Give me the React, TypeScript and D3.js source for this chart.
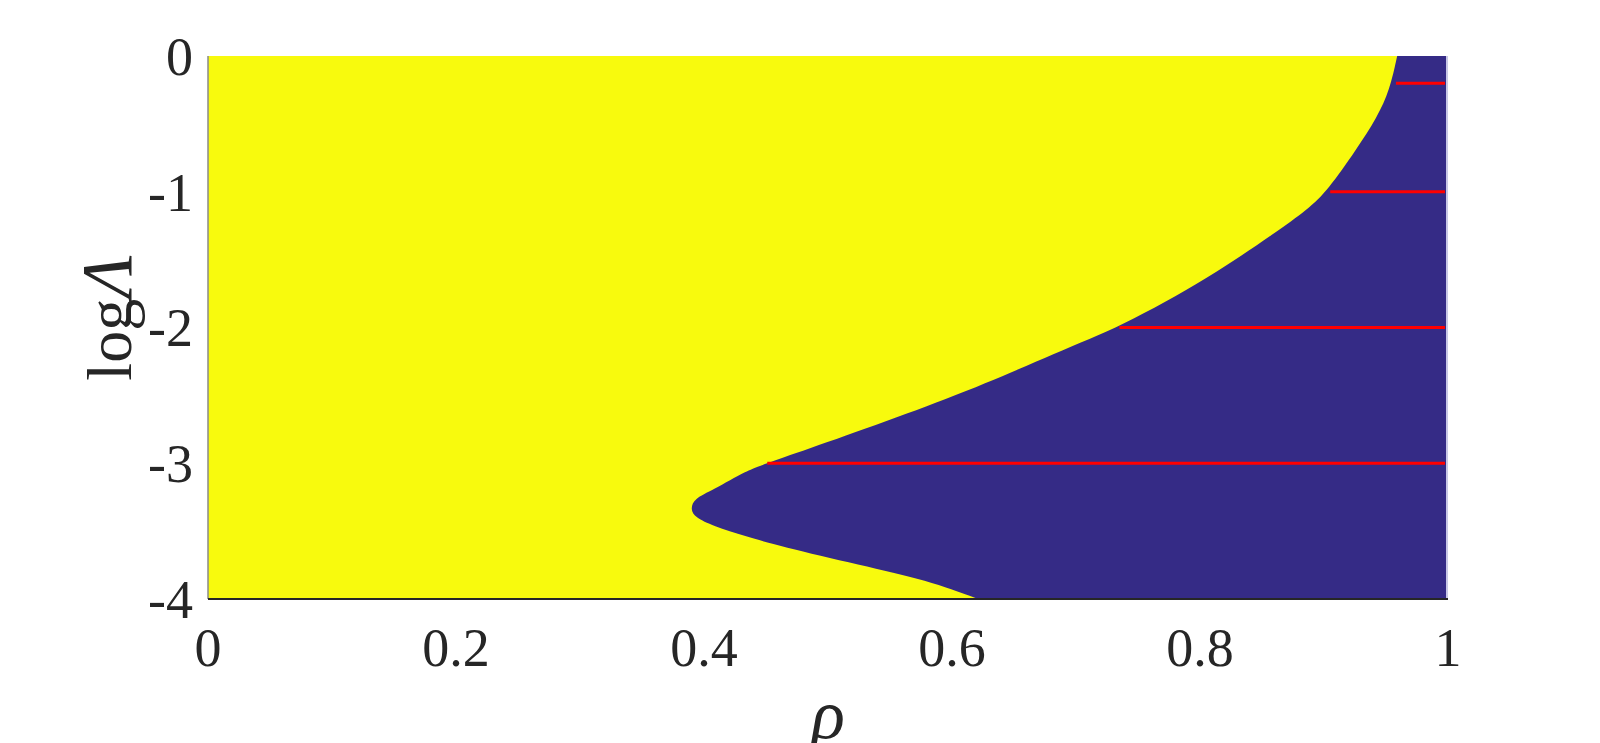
import React, { useEffect, useRef } from 'react';
import * as d3 from 'd3';

// boundary between the two regions (top to bottom)
const boundaryLogLambda = [0, -0.25, -0.45, -0.69, -0.99, -1.13, -1.30, -1.63, -2.0, -2.17, -2.5, -3.0, -3.05, -3.2, -3.26, -3.34, -3.40, -3.46, -3.54, -3.61, -3.75, -3.86, -4.0];
const boundaryRho = [0.959, 0.953, 0.943, 0.926, 0.903, 0.887, 0.861, 0.808, 0.735, 0.687, 0.607, 0.451, 0.435, 0.407, 0.392, 0.389, 0.393, 0.407, 0.434, 0.461, 0.526, 0.58, 0.621];

// red horizontal lines: level and where they start
const lineLevels = [-0.2, -1, -2, -3];
const lineStarts = [0.958, 0.905, 0.735, 0.451];

const xTicks = [0, 0.2, 0.4, 0.6, 0.8, 1];
const yTicks = [0, -1, -2, -3, -4];

const App = () => {
    const svgRef = useRef(null);

    useEffect(() => {
        const svg = d3.select(svgRef.current);
        svg.selectAll("*").remove();

        const left = 208, right = 1448, top = 56, bottom = 599;

        const x = d3.scaleLinear().domain([0, 1]).range([left, right]);
        const y = d3.scaleLinear().domain([0, -4]).range([top, bottom]);

        const yellow = "#f8fa0d";
        const blue = "#352b86";

        // yellow background
        svg.append("rect")
            .attr("x", left).attr("y", top)
            .attr("width", right - left).attr("height", bottom - top)
            .attr("fill", yellow);

        // blue region: boundary then right edge
        const pts = boundaryRho.map((r, i) => [x(r), y(boundaryLogLambda[i])]);
        const curve = d3.line().curve(d3.curveBasis)(pts);
        const path = curve + `L${x(1)},${y(-4)}L${x(1)},${y(0)}Z`;
        svg.append("path")
            .attr("d", path)
            .attr("fill", blue);

        // red lines
        svg.selectAll("line.red")
            .data(lineLevels)
            .enter()
            .append("line")
            .attr("class", "red")
            .attr("x1", (d, i) => x(lineStarts[i]))
            .attr("x2", x(1) - 3)
            .attr("y1", d => y(d))
            .attr("y2", d => y(d))
            .attr("stroke", "#ff0000")
            .attr("stroke-width", 3);

        // right edge
        svg.append("line")
            .attr("x1", right - 1).attr("x2", right - 1)
            .attr("y1", top).attr("y2", bottom)
            .attr("stroke", "#c9c8e6")
            .attr("stroke-width", 2);

        // axis lines
        svg.append("line")
            .attr("x1", left).attr("x2", left)
            .attr("y1", top).attr("y2", bottom)
            .attr("stroke", "#8a8a8a").attr("stroke-width", 1.5);
        svg.append("line")
            .attr("x1", left).attr("x2", right)
            .attr("y1", bottom).attr("y2", bottom)
            .attr("stroke", "#262626").attr("stroke-width", 2);

        const font = "'Liberation Serif', 'Times New Roman', serif";

        // tick labels
        svg.selectAll("text.xt")
            .data(xTicks)
            .enter()
            .append("text")
            .attr("class", "xt")
            .attr("x", d => x(d))
            .attr("y", bottom + 67)
            .attr("text-anchor", "middle")
            .attr("font-family", font)
            .attr("font-size", 54)
            .attr("fill", "#262626")
            .text(d => String(d));

        svg.selectAll("text.yt")
            .data(yTicks)
            .enter()
            .append("text")
            .attr("class", "yt")
            .attr("x", left - 15)
            .attr("y", d => y(d))
            .attr("dy", "0.35em")
            .attr("text-anchor", "end")
            .attr("font-family", font)
            .attr("font-size", 54)
            .attr("fill", "#262626")
            .text(d => String(d));

        // axis titles
        const yl = svg.append("text")
            .attr("transform", "translate(131,318) rotate(-90)")
            .attr("text-anchor", "middle")
            .attr("font-family", font)
            .attr("font-size", 64)
            .attr("fill", "#262626");
        yl.append("tspan").text("log");
        yl.append("tspan").attr("font-style", "italic").attr("font-size", 72).text("Λ");

        svg.append("text")
            .attr("x", (left + right) / 2)
            .attr("y", 738)
            .attr("text-anchor", "middle")
            .attr("font-family", font)
            .attr("font-style", "italic")
            .attr("font-size", 70)
            .attr("fill", "#262626")
            .text("ρ");
    }, []);

    return (
        <svg ref={svgRef} width={1600} height={743}
            style={{ position: 'absolute', left: 0, top: 0, background: '#fff' }}></svg>
    );
};

export default App;
